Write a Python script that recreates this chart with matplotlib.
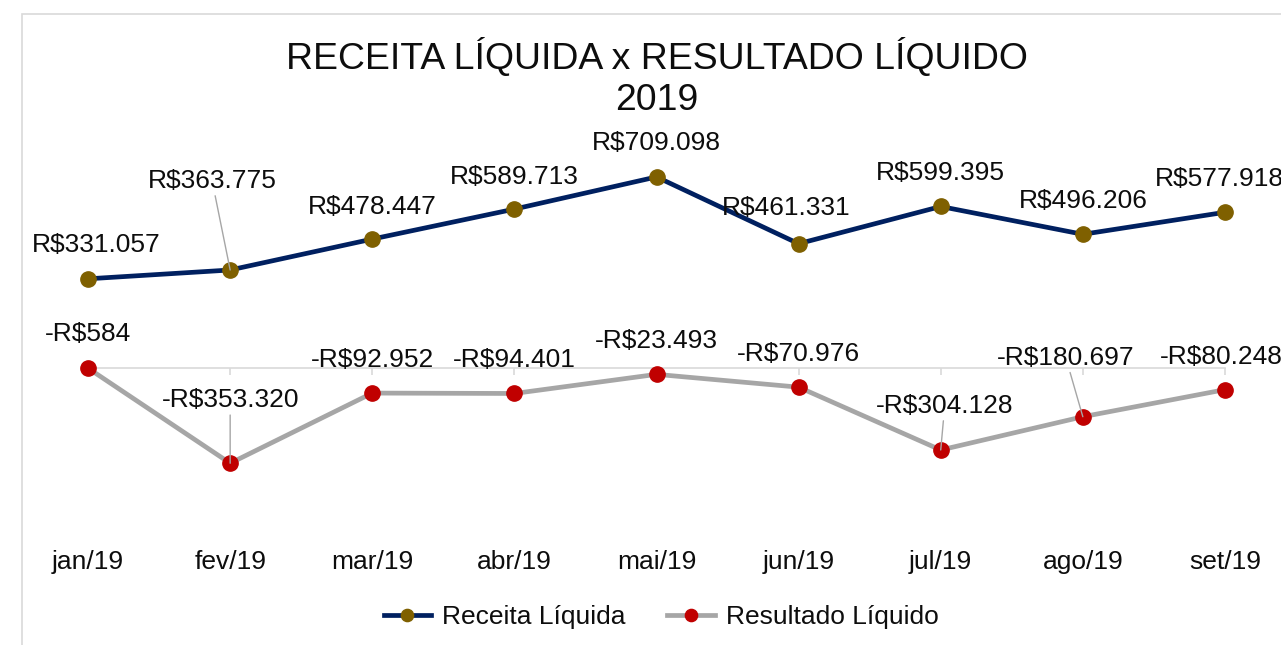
import matplotlib.pyplot as plt
from matplotlib.patches import Rectangle

plt.rcParams['font.family'] = ['Liberation Sans', 'DejaVu Sans']

# Data
meses = ["jan/19", "fev/19", "mar/19", "abr/19", "mai/19", "jun/19", "jul/19", "ago/19", "set/19"]
receita = [331057, 363775, 478447, 589713, 709098, 461331, 599395, 496206, 577918]
resultado = [-584, -353320, -92952, -94401, -23493, -70976, -304128, -180697, -80248]

# label offsets in pixels (dx, dy) and whether a leader line is drawn
off_rec = [(8, 34), (-18, 89), (0, 32), (0, 32), (0, 34), (-12, 36), (0, 33), (0, 33), (-6, 33)]
lead_rec = [False, True, False, False, False, False, False, False, False]
off_res = [(0, 34), (0, 63), (0, 33), (0, 33), (0, 33), (0, 33), (4, 44), (-17, 59), (-4, 33)]
lead_res = [False, True, False, False, False, False, True, True, False]

TXT = "#0d0d0d"


def fmt(v):
    s = "{:,}".format(abs(v)).replace(",", ".")
    return ("-R$" if v < 0 else "R$") + s


W, H = 1281, 645
fig = plt.figure(figsize=(W / 100, H / 100), dpi=100)

# chart border (cut at right and bottom like the screenshot)
fig.add_artist(Rectangle((22 / W, -0.1), 1.2, 1 - 14 / H + 0.1, transform=fig.transFigure,
                         fill=False, edgecolor="#d9d9d9", lw=1.2, clip_on=False))

ax = fig.add_axes([17 / W, 115 / H, 1279 / W, 380 / H])
ax.set_xlim(-0.5, 8.5)
ax.set_ylim(-601000, 809000)

x = list(range(len(meses)))
ax.plot(x, receita, color="#002060", lw=3.4, marker="o", ms=11,
        mfc="#7f6000", mec="#7f6000", label="Receita Líquida", zorder=3)
ax.plot(x, resultado, color="#a6a6a6", lw=3.4, marker="o", ms=11,
        mfc="#c00000", mec="#c00000", label="Resultado Líquido", zorder=3)

for i in x:
    for vals, offs, leads in ((receita, off_rec, lead_rec), (resultado, off_res, lead_res)):
        ap = None
        if leads[i]:
            ap = dict(arrowstyle="-", color="#a6a6a6", lw=1, shrinkA=0, shrinkB=0)
        ax.annotate(fmt(vals[i]), (i, vals[i]), xytext=offs[i], textcoords="offset pixels",
                    ha="center", va="center", fontsize=19, color=TXT,
                    arrowprops=ap, annotation_clip=False)

for s in ["left", "right", "top"]:
    ax.spines[s].set_visible(False)
ax.spines["bottom"].set_position(("data", 0))
ax.spines["bottom"].set_bounds(0, len(meses) - 1)
ax.spines["bottom"].set_color("#d9d9d9")
ax.spines["bottom"].set_linewidth(1.2)
ax.set_yticks([])
ax.set_xticks(x)
ax.tick_params(axis="x", length=5, width=1.2, color="#d9d9d9", labelbottom=False)

for i in x:
    ax.text(i, -0.084, meses[i], transform=ax.get_xaxis_transform(),
            ha="center", va="center", fontsize=19, color=TXT)

fig.text(657 / W, 1 - 57 / H, "RECEITA LÍQUIDA x RESULTADO LÍQUIDO",
         ha="center", va="center", fontsize=26.9, color=TXT)
fig.text(657 / W, 1 - 100 / H, "2019", ha="center", va="center", fontsize=26.9, color=TXT)

fig.legend(loc="center", bbox_to_anchor=(661 / W, 1 - 617 / H), ncol=2, frameon=False,
           fontsize=19, handlelength=1.8, handletextpad=0.4, columnspacing=1.6,
           markerscale=0.8, labelcolor=TXT)

fig.savefig("out.png", dpi=100)
